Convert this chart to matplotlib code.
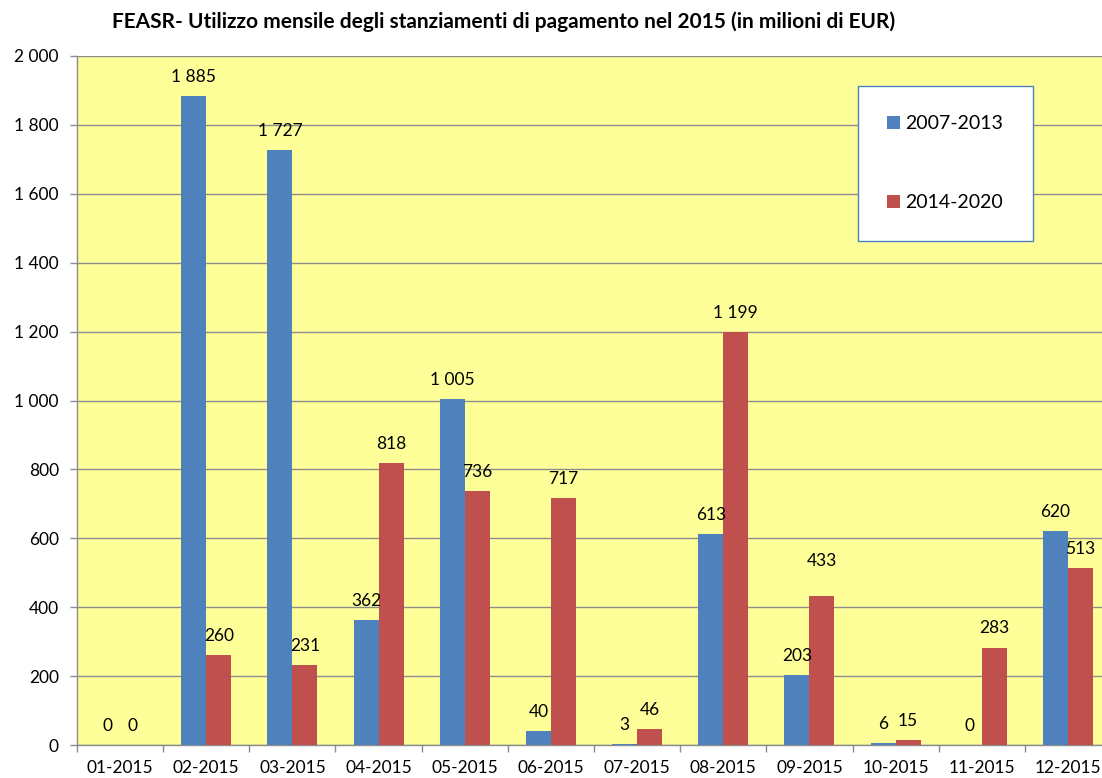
import matplotlib
matplotlib.use("Agg")
import matplotlib.pyplot as plt
import numpy as np

categories = ["01-2015", "02-2015", "03-2015", "04-2015", "05-2015", "06-2015",
              "07-2015", "08-2015", "09-2015", "10-2015", "11-2015", "12-2015"]
series_names = ["2007-2013", "2014-2020"]
values_2007_2013 = [0, 1885, 1727, 362, 1005, 40, 3, 613, 203, 6, 0, 620]
values_2014_2020 = [0, 260, 231, 818, 736, 717, 46, 1199, 433, 15, 283, 513]
y_ticks = [0, 200, 400, 600, 800, 1000, 1200, 1400, 1600, 1800, 2000]
title = "FEASR- Utilizzo mensile degli stanziamenti di pagamento nel 2015 (in milioni di EUR)"

BLUE = "#4F81BD"
RED = "#C0504D"
YELLOW = "#FFFF99"
GRID = "#8C8C8C"

plt.rcParams["font.family"] = ["Lato", "DejaVu Sans"]

W, H = 1102, 778
fig = plt.figure(figsize=(W / 100, H / 100), dpi=100)
fig.patch.set_facecolor("white")

left_px, right_px, top_px, bottom_px = 77, 1111, 56, 745
ax = fig.add_axes([left_px / W, 1 - bottom_px / H,
                   (right_px - left_px) / W, (bottom_px - top_px) / H])
ax.set_facecolor(YELLOW)

x = np.arange(len(categories))
bw = 0.29
ax.bar(x - bw / 2, values_2007_2013, bw, color=BLUE, label=series_names[0], zorder=3)
ax.bar(x + bw / 2, values_2014_2020, bw, color=RED, label=series_names[1], zorder=3)

ax.set_xlim(-0.5, len(categories) - 0.5)
ax.set_ylim(0, 2000)

def fmt(v):
    return f"{v:,}".replace(",", " ")

# small label nudge (points) mimicking the original placement
nudges_red = {8: (0, 11.5)}

for i, v in enumerate(values_2007_2013):
    ax.annotate(fmt(v), (x[i] - bw / 2, v), xytext=(0, 13.7),
                textcoords="offset points", ha="center", va="center",
                fontsize=12.5, zorder=5)
for i, v in enumerate(values_2014_2020):
    dx, dy = nudges_red.get(i, (0, 0))
    ax.annotate(fmt(v), (x[i] + bw / 2, v), xytext=(dx, 13.7 + dy),
                textcoords="offset points", ha="center", va="center",
                fontsize=12.5, zorder=5)

ax.set_yticks(y_ticks)
ax.set_yticklabels([fmt(t) for t in y_ticks], fontsize=12.5)
ax.yaxis.grid(True, color=GRID, linewidth=1, zorder=0)
ax.set_axisbelow(True)

ax.set_xticks(x)
ax.set_xticklabels(categories, fontsize=12.5)
ax.set_xticks(np.arange(len(categories) + 1) - 0.5, minor=True)
ax.tick_params(axis="x", which="major", length=0, pad=11)
ax.tick_params(axis="x", which="minor", length=5, color=GRID, width=1)
ax.tick_params(axis="y", length=5, color=GRID, width=1, pad=8)

for s in ["top", "right"]:
    ax.spines[s].set_visible(False)
for s in ["left", "bottom"]:
    ax.spines[s].set_color(GRID)
    ax.spines[s].set_linewidth(1)

fig.text(112 / W, 1 - 22 / H, title, fontsize=15, fontweight="bold",
         ha="left", va="center")

leg = ax.legend(loc="upper left",
                bbox_to_anchor=(858 / W, 1 - 86 / H),
                bbox_transform=fig.transFigure,
                fontsize=14, frameon=True, fancybox=False,
                handlelength=0.65, handleheight=0.65, handletextpad=0.3,
                labelspacing=3.2, borderpad=1.5, borderaxespad=0)
leg.get_frame().set_edgecolor(BLUE)
leg.get_frame().set_linewidth(1)
leg.get_frame().set_facecolor("white")
leg.get_frame().set_alpha(1)

fig.savefig("out.png", dpi=100)
